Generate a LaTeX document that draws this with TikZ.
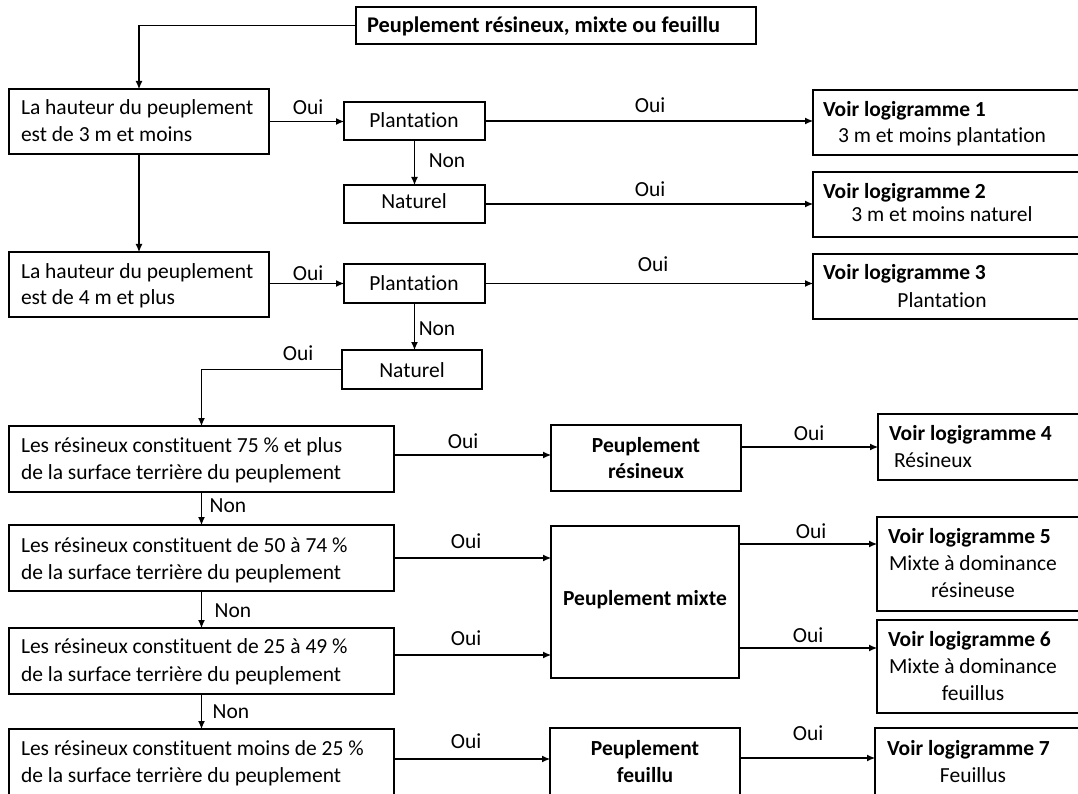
\documentclass[tikz,border=0pt]{standalone}
\usepackage{fontspec}
\setmainfont{Carlito}[Ligatures={NoCommon}]
\usetikzlibrary{arrows.meta,calc}
\begin{document}
\begin{tikzpicture}[x=1pt,y=-1pt,
  box/.style={draw, line width=1.1pt, inner sep=0pt, outer sep=0pt, anchor=north west},
  txt/.style={inner sep=0pt, outer sep=0pt, font=\fontsize{21.5}{27}\selectfont},
  btxt/.style={inner sep=0pt, outer sep=0pt, font=\fontsize{21.5}{27}\selectfont\bfseries},
  lbl/.style={txt, anchor=base},
  arr/.style={line width=1.1pt, -{Latex[length=8pt,width=7pt]}},
  ln/.style={line width=1.1pt}]
\useasboundingbox (0,0) rectangle (1078,794);
\clip (0,0) rectangle (1078,794);
% boxes
\node[box, minimum width=400pt, minimum height=37pt] (top) at (356,7) {};
\node[box, minimum width=260pt, minimum height=65pt] (a1) at (9,89) {};
\node[box, minimum width=141pt, minimum height=38pt] (p1) at (344,102) {};
\node[box, minimum width=141pt, minimum height=38pt] (n1) at (344,185) {};
\node[box, minimum width=270pt, minimum height=65pt] (v1) at (813,90) {};
\node[box, minimum width=270pt, minimum height=65pt] (v2) at (813,172) {};
\node[box, minimum width=260pt, minimum height=65pt] (a2) at (9,252) {};
\node[box, minimum width=141pt, minimum height=39pt] (p2) at (344,264) {};
\node[box, minimum width=140pt, minimum height=39pt] (n2) at (342,350) {};
\node[box, minimum width=270pt, minimum height=65pt] (v3) at (813,254) {};
\node[box, minimum width=385pt, minimum height=66pt] (b1) at (9,426) {};
\node[box, minimum width=385pt, minimum height=66pt] (b2) at (9,525) {};
\node[box, minimum width=385pt, minimum height=66pt] (b3) at (9,628) {};
\node[box, minimum width=385pt, minimum height=70pt] (b4) at (9,729) {};
\node[box, minimum width=190pt, minimum height=66pt] (pr) at (551,425) {};
\node[box, minimum width=188pt, minimum height=152pt] (pm) at (551,526) {};
\node[box, minimum width=190pt, minimum height=70pt] (pf) at (550,728) {};
\node[box, minimum width=210pt, minimum height=66pt] (v4) at (878,414) {};
\node[box, minimum width=210pt, minimum height=94pt] (v5) at (877,517) {};
\node[box, minimum width=210pt, minimum height=93pt] (v6) at (877,620) {};
\node[box, minimum width=210pt, minimum height=70pt] (v7) at (875,728) {};
% texts
\node[btxt, font=\fontsize{22.4}{27}\selectfont\bfseries, anchor=base west] (ttop) at (367,32.5) {Peuplement résineux, mixte ou feuillu};
\node[txt, anchor=base west] (ta1a) at (21,115) {La hauteur du peuplement};
\node[txt, anchor=base west] (ta1b) at (21,142) {est de 3 m et moins};
\node[txt, anchor=base] (tp1) at (414,128) {Plantation};
\node[txt, anchor=base] (tn1) at (414,209) {Naturel};
\node[btxt, anchor=base west] (tv1a) at (823,116.5) {Voir logigramme 1};
\node[txt, anchor=base] (tv1b) at (942,143) {3 m et moins plantation};
\node[btxt, anchor=base west] (tv2a) at (823,199) {Voir logigramme 2};
\node[txt, anchor=base] (tv2b) at (942,222) {3 m et moins naturel};
\node[txt, anchor=base west] (ta2a) at (21,278) {La hauteur du peuplement};
\node[txt, anchor=base west] (ta2b) at (21,304) {est de 4 m et plus};
\node[txt, anchor=base] (tp2) at (414,290) {Plantation};
\node[txt, anchor=base] (tn2) at (412,377) {Naturel};
\node[btxt, anchor=base west] (tv3a) at (823,279) {Voir logigramme 3};
\node[txt, anchor=base] (tv3b) at (942,307) {Plantation};
\node[txt, anchor=base west] (tb1a) at (21,452) {Les résineux constituent 75 \% et plus};
\node[txt, anchor=base west] (tb1b) at (21,479) {de la surface terrière du peuplement};
\node[txt, anchor=base west] (tb2a) at (21,552) {Les résineux constituent de 50 à 74 \%};
\node[txt, anchor=base west] (tb2b) at (21,579) {de la surface terrière du peuplement};
\node[txt, anchor=base west] (tb3a) at (21,653) {Les résineux constituent de 25 à 49 \%};
\node[txt, anchor=base west] (tb3b) at (21,681) {de la surface terrière du peuplement};
\node[txt, anchor=base west] (tb4a) at (21,755) {Les résineux constituent moins de 25 \%};
\node[txt, anchor=base west] (tb4b) at (21,782) {de la surface terrière du peuplement};
\node[btxt, anchor=base] (tpra) at (646,452) {Peuplement};
\node[btxt, anchor=base] (tprb) at (646,478) {résineux};
\node[btxt, anchor=base] (tpm) at (645,605) {Peuplement mixte};
\node[btxt, anchor=base] (tpfa) at (645,755) {Peuplement};
\node[btxt, anchor=base] (tpfb) at (645,782) {feuillu};
\node[btxt, anchor=base west] (tv4a) at (889,440) {Voir logigramme 4};
\node[txt, anchor=base west] (tv4b) at (894,467) {Résineux};
\node[btxt, anchor=base west] (tv5a) at (888,543) {Voir logigramme 5};
\node[txt, anchor=base] (tv5b) at (973,570) {Mixte à dominance};
\node[txt, anchor=base] (tv5c) at (973,597) {résineuse};
\node[btxt, anchor=base west] (tv6a) at (888,646) {Voir logigramme 6};
\node[txt, anchor=base] (tv6b) at (973,673) {Mixte à dominance};
\node[txt, anchor=base] (tv6c) at (973,700) {feuillus};
\node[btxt, anchor=base west] (tv7a) at (887,755) {Voir logigramme 7};
\node[txt, anchor=base] (tv7b) at (973,782) {Feuillus};
% labels
\node[lbl] (l1) at (308,115) {Oui};
\node[lbl] (l2) at (447,168) {Non};
\node[lbl] (l3) at (650,113) {Oui};
\node[lbl] (l4) at (650,197) {Oui};
\node[lbl] (l5) at (308,280) {Oui};
\node[lbl] (l6) at (437,335) {Non};
\node[lbl] (l7) at (298,360) {Oui};
\node[lbl] (l8) at (653,271) {Oui};
\node[lbl] (l9) at (463,448) {Oui};
\node[lbl] (l10) at (228,512) {Non};
\node[lbl] (l11) at (466,548) {Oui};
\node[lbl] (l12) at (233,617) {Non};
\node[lbl] (l13) at (466,645) {Oui};
\node[lbl] (l14) at (231,718) {Non};
\node[lbl] (l15) at (466,748) {Oui};
\node[lbl] (l16) at (809,440) {Oui};
\node[lbl] (l17) at (811,538) {Oui};
\node[lbl] (l18) at (808,642) {Oui};
\node[lbl] (l19) at (808,740) {Oui};
% connector end points on the mixed-stand box outputs
\coordinate (c5) at ($(v5.north west)+(0,27)$);
\coordinate (c6) at ($(v6.north west)+(0,28)$);
% connectors
\draw[arr] (top.west) -| (a1.north);
\draw[arr] (a1.east) -- (a1.east -| p1.west);
\draw[arr] (p1.south) -- (p1.south |- n1.north);
\draw[arr] (p1.east) -- (p1.east -| v1.west);
\draw[arr] (n1.east) -- (n1.east -| v2.west);
\draw[arr] (a1.south) -- (a2.north);
\draw[arr] ([yshift=1pt]a2.east) -- ([yshift=1pt]a2.east -| p2.west);
\draw[arr] (p2.east) -- (p2.east -| v3.west);
\draw[arr] (p2.south) -- (p2.south |- n2.north);
\draw[arr] (n2.west) -| (b1.north);
\draw[arr] ([yshift=4pt]b1.east) -- ([yshift=4pt]b1.east -| pr.west);
\draw[arr] (pr.east |- v4.west) -- (v4.west);
\draw[arr] (b1.south) -- (b2.north);
\draw[arr] (b2.south) -- (b3.north);
\draw[arr] (b3.south) -- (b4.north);
\draw[arr] (b2.east) -- (b2.east -| pm.west);
\draw[arr] ([yshift=6pt]b3.east) -- ([yshift=6pt]b3.east -| pm.west);
\draw[arr] ([yshift=5pt]b4.east) -- ([yshift=5pt]b4.east -| pf.west);
\draw[arr] (c5 -| pm.east) -- (c5);
\draw[arr] (c6 -| pm.east) -- (c6);
\draw[arr] ([yshift=5pt]pf.east) -- ([yshift=5pt]pf.east -| v7.west);
\end{tikzpicture}
\end{document}
